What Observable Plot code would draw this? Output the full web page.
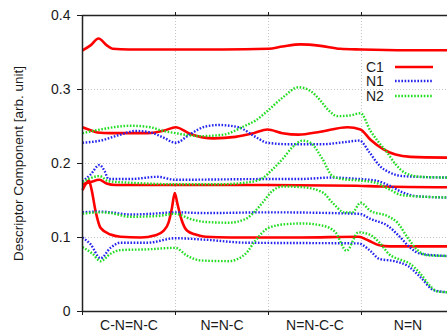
<!DOCTYPE html>
<html><head><meta charset="utf-8">
<script src="https://cdn.jsdelivr.net/npm/d3@7"></script>
<script src="https://cdn.jsdelivr.net/npm/@observablehq/plot@0.6"></script>
<style>
body{margin:0;background:#fff;}
#wrap{position:relative;width:447px;height:330px;overflow:hidden;font-family:"Liberation Sans",Arial,sans-serif;color:#1a1a1a;}
#legend{position:absolute;left:366px;top:59.5px;font-size:14px;}
#legend .row{display:flex;align-items:center;height:14.5px;}
#legend .lab{width:28.5px;}
</style>
</head><body>
<div id="wrap"><div id="legend"></div></div>
<script>
const categories = ["C-N=N-C","N=N-C","N=N-C-C","N=N"];
const yTicks = [0,0.1,0.2,0.3,0.4];
const seriesNames = ["C1","N1","N2"];
const seriesColors = ["#ff0000","#2424ee","#22dd22"];

// C1 lines: [x (fragment position), value]
const c1a = [[0,.353],[.09,.36],[.172,.369],[.258,.36],[.323,.355],[.5,.354],[1,.354],[1.5,.354],[2,.355],[2.15,.358],[2.344,.361],[2.56,.359],[2.77,.355],[3,.354],[3.5,.353],[3.925,.353]];
const c1b = [[0,.249],[.086,.245],[.161,.242],[.301,.241],[.699,.241],[.892,.245],[1,.249],[1.161,.24],[1.409,.234],[1.645,.236],[1.839,.241],[1.989,.246],[2.151,.241],[2.323,.239],[2.559,.243],[2.849,.249],[2.989,.246],[3.097,.232],[3.237,.219],[3.366,.212],[3.527,.209],[3.925,.208]];
const c1c = [[0,.164],[.032,.172],[.068,.177],[.097,.165],[.14,.136],[.194,.113],[.301,.104],[.409,.101],[.624,.1],[.785,.103],[.871,.109],[.925,.12],[.962,.14],[.992,.16],[1.022,.145],[1.065,.124],[1.126,.109],[1.215,.104],[1.323,.101],[1.591,.1],[2.344,.1],[2.968,.101],[3.075,.096],[3.183,.09],[3.312,.088],[3.925,.088]];
const c1d = [[0,.172],[.086,.175],[.183,.178],[.258,.173],[.355,.171],[1,.171],[2,.171],[2.95,.17],[3.2,.169],[3.925,.168]];
// N1 lines
const n1a = [[0,.228],[.194,.231],[.409,.239],[.57,.244],[.731,.242],[.871,.235],[1,.228],[1.161,.24],[1.323,.25],[1.462,.252],[1.677,.249],[1.86,.236],[1.989,.228],[2.237,.226],[2.559,.226],[2.828,.229],[2.978,.231],[3.086,.215],[3.194,.197],[3.301,.188],[3.441,.183],[3.925,.181]];
const n1b = [[0,.176],[.086,.185],[.183,.198],[.237,.19],[.28,.179],[.516,.179],[.806,.182],[1,.178],[2,.179],[2.344,.179],[2.667,.181],[2.978,.179],[3.151,.177],[3.301,.17],[3.441,.161],[3.581,.156],[3.925,.154]];
const n1c = [[0,.134],[.194,.135],[.301,.134],[.516,.131],[.731,.132],[1,.134],[1.323,.133],[2,.134],[2.978,.132],[3.097,.125],[3.28,.116],[3.419,.1],[3.527,.086],[3.634,.078],[3.925,.075]];
const n1d = [[0,.1],[.086,.091],[.194,.072],[.301,.086],[.409,.093],[.699,.093],[1,.099],[1.323,.097],[1.753,.093],[2.968,.092],[3.086,.083],[3.194,.071],[3.355,.068],[3.505,.061],[3.645,.045],[3.774,.029],[3.925,.026]];
// N2 lines
const n2a = [[0,.241],[.194,.246],[.516,.251],[.731,.249],[.839,.245],[1,.241],[1.269,.237],[1.516,.239],[1.731,.25],[1.86,.258],[1.989,.271],[2.161,.29],[2.323,.303],[2.452,.298],[2.559,.285],[2.645,.272],[2.742,.264],[2.882,.265],[2.989,.268],[3.097,.244],[3.183,.229],[3.269,.216],[3.366,.199],[3.473,.187],[3.634,.182],[3.925,.181]];
const n2b = [[0,.175],[.183,.183],[.28,.176],[.516,.174],[1,.172],[1.484,.172],[1.806,.175],[1.935,.18],[2.043,.192],[2.151,.206],[2.258,.222],[2.366,.231],[2.452,.228],[2.581,.206],[2.688,.183],[2.796,.179],[2.978,.177],[3.151,.174],[3.301,.165],[3.441,.157],[3.925,.154]];
const n2c = [[0,.132],[.194,.134],[.301,.133],[.516,.128],[.806,.129],[1,.132],[1.161,.125],[1.323,.121],[1.57,.12],[1.753,.125],[1.86,.136],[1.935,.147],[2.043,.163],[2.151,.169],[2.366,.168],[2.581,.161],[2.688,.147],[2.817,.134],[2.903,.134],[2.989,.147],[3.097,.136],[3.28,.129],[3.387,.12],[3.495,.1],[3.602,.083],[3.71,.076],[3.925,.075]];
const n2d = [[0,.087],[.108,.078],[.194,.068],[.301,.078],[.409,.083],[.699,.084],[1,.086],[1.118,.076],[1.269,.069],[1.57,.068],[1.753,.078],[1.86,.096],[2,.113],[2.183,.118],[2.366,.119],[2.581,.116],[2.72,.107],[2.839,.082],[2.968,.107],[3.086,.104],[3.194,.093],[3.301,.077],[3.419,.07],[3.516,.065],[3.634,.051],[3.742,.034],[3.817,.027],[3.925,.026]];

const yTitle = "Descriptor Component [arb. unit]";

const groups = [[c1a,c1b,c1c,c1d],[n1a,n1b,n1c,n1d],[n2a,n2b,n2c,n2d]];
const rows = groups.map((g,si)=> g.flatMap((ln,li)=> ln.map(([x,y])=>({x,y,id:si+"-"+li}))));

const font = '"Liberation Sans",Arial,sans-serif';
const lineOpts = (si) => ({x:"x", y:"y", z:"id", stroke: seriesColors[si], strokeWidth: si===0?2.6:2.4,
  curve:"monotone-x", strokeDasharray: si===0? null : "1.6,1.6", strokeLinecap:"butt"});

const chart = Plot.plot({
  width:447, height:330, marginLeft:82, marginRight:0, marginTop:15, marginBottom:19,
  x:{domain:[0,3.925]}, y:{domain:[0,0.4]},
  style:{fontFamily:font, fontSize:"14px", color:"#1a1a1a", background:"#fff"},
  marks:[
    Plot.gridY(yTicks.slice(1,-1), {stroke:"#c4c4c4", strokeOpacity:1, strokeDasharray:"1,2"}),
    Plot.gridX([1,2,3], {stroke:"#c4c4c4", strokeOpacity:1, strokeDasharray:"1,2"}),
    Plot.line(rows[0], lineOpts(0)),
    Plot.line(rows[1], lineOpts(1)),
    Plot.line(rows[2], lineOpts(2)),
    Plot.ruleX([0], {stroke:"#222", strokeWidth:1.5}),
    Plot.ruleY([0,0.4], {stroke:"#222", strokeWidth:1.5}),
    Plot.axisY({ticks:yTicks, tickSize:5, tickPadding:7, label:null, fontSize:14,
      tickFormat:d=> d===0?"0":d.toFixed(1)}),
    Plot.axisX({ticks:[0,1,2,3], tickSize:4, tickFormat:()=>"", label:null}),
    Plot.axisX({anchor:"top", ticks:[1,2,3], tickSize:4, tickFormat:()=>"", label:null}),
    Plot.axisX({ticks:categories.map((c,i)=>i+0.5), tickSize:0, tickPadding:9, label:null, fontSize:14,
      tickFormat:d=>categories[Math.floor(d)]}),
    Plot.text([yTitle], {frameAnchor:"left", textAnchor:"middle", rotate:-90, dx:-64, fontSize:13.5, fill:"#1a1a1a"})
  ]
});
const wrap = document.getElementById("wrap");
wrap.insertBefore(chart, wrap.firstChild);

const legend = document.getElementById("legend");
seriesNames.forEach((n,i)=>{
  const row = document.createElement("div"); row.className="row";
  const lab = document.createElement("span"); lab.className="lab"; lab.textContent=n;
  row.appendChild(lab);
  const s = d3.create("svg").attr("width",40).attr("height",6);
  s.append("line").attr("x1",0).attr("x2",38).attr("y1",3).attr("y2",3)
    .attr("stroke",seriesColors[i]).attr("stroke-width",2.4)
    .attr("stroke-dasharray", i===0?null:"1.6,1.6");
  row.appendChild(s.node());
  legend.appendChild(row);
});
</script>
</body></html>
